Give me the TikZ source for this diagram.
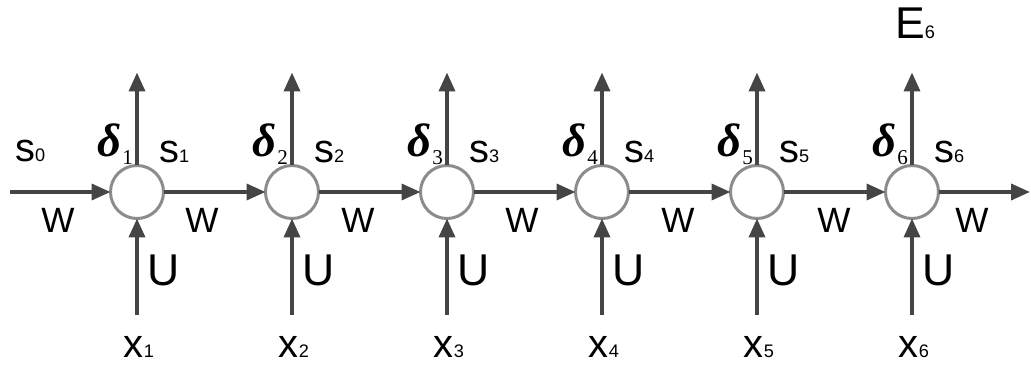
\documentclass[tikz,border=0pt]{standalone}
\usepackage{fontspec}
\setmainfont{Liberation Sans}
\newfontfamily\dfont{Liberation Serif}
\usetikzlibrary{arrows.meta,positioning}
\definecolor{linegray}{HTML}{454545}
\definecolor{cellgray}{HTML}{8C8C8C}
\newcommand{\ix}[1]{{\fontsize{15.5}{16}\selectfont #1}}
\newcommand{\dlt}[1]{{\dfont\bfseries\itshape δ}\kern0.5pt\raisebox{-2.4mm}{\fontsize{18}{19}\dfont #1}}

\begin{document}
\begin{tikzpicture}[
  cell/.style ={circle,draw=cellgray,line width=0.9mm,fill=white,
                minimum size=15.9mm,inner sep=0pt,outer sep=0pt},
  arr/.style  ={draw=linegray,line width=1.1mm,
                -{Triangle[length=5.7mm,width=4.8mm]}},
  sx/.style   ={font=\fontsize{34}{35}\selectfont,inner sep=0pt},
  wl/.style   ={font=\fontsize{30}{31}\selectfont,inner sep=0pt},
  ul/.style   ={font=\fontsize{38}{39}\selectfont,inner sep=0pt},
  dl/.style   ={font=\fontsize{40}{41}\selectfont,inner sep=0pt},
  node distance=30.6mm]

\useasboundingbox (0,0) rectangle (309.3mm,-109.5mm);

% ---------- cells ----------
\node[cell] (c1) at (41.1mm,-57.6mm) {};
\node[cell, right=of c1] (c2) {};
\node[cell, right=of c2] (c3) {};
\node[cell, right=of c3] (c4) {};
\node[cell, right=of c4] (c5) {};
\node[cell, right=of c5] (c6) {};

% ---------- free ends ----------
\coordinate[left=30.15mm of c1.west] (sin);
\coordinate[right=27.45mm of c6.east] (sout);
\coordinate[above=27.9mm of c1.north] (o1);
\coordinate[above=27.9mm of c2.north] (o2);
\coordinate[above=27.9mm of c3.north] (o3);
\coordinate[above=27.9mm of c4.north] (o4);
\coordinate[above=27.9mm of c5.north] (o5);
\coordinate[above=27.9mm of c6.north] (o6);
\coordinate[below=28.95mm of c1.south] (i1);
\coordinate[below=28.95mm of c2.south] (i2);
\coordinate[below=28.95mm of c3.south] (i3);
\coordinate[below=28.95mm of c4.south] (i4);
\coordinate[below=28.95mm of c5.south] (i5);
\coordinate[below=28.95mm of c6.south] (i6);

% ---------- connectors ----------
\draw[arr] (sin)--(c1); \draw[arr] (c1)--(c2); \draw[arr] (c2)--(c3);
\draw[arr] (c3)--(c4); \draw[arr] (c4)--(c5); \draw[arr] (c5)--(c6);
\draw[arr] (c6)--(sout);
\draw[arr] (c1)--(o1); \draw[arr] (c2)--(o2); \draw[arr] (c3)--(o3);
\draw[arr] (c4)--(o4); \draw[arr] (c5)--(o5); \draw[arr] (c6)--(o6);
\draw[arr] (i1)--(c1); \draw[arr] (i2)--(c2); \draw[arr] (i3)--(c3);
\draw[arr] (i4)--(c4); \draw[arr] (i5)--(c5); \draw[arr] (i6)--(c6);

% ---------- state labels ----------
\node[sx,anchor=base west] (s0) at ([xshift=1.5mm,yshift=9mm]sin) {s\ix{0}};
\node[wl] (w0) at ([xshift=14.4mm,yshift=-8.4mm]sin) {W};

\node[dl,anchor=base west] (d1) at ([xshift=-11.85mm,yshift=2.55mm]c1.north) {\dlt{1}};
\node[dl,anchor=base west] (d2) at ([xshift=-11.85mm,yshift=2.55mm]c2.north) {\dlt{2}};
\node[dl,anchor=base west] (d3) at ([xshift=-11.85mm,yshift=2.55mm]c3.north) {\dlt{3}};
\node[dl,anchor=base west] (d4) at ([xshift=-11.85mm,yshift=2.55mm]c4.north) {\dlt{4}};
\node[dl,anchor=base west] (d5) at ([xshift=-11.85mm,yshift=2.55mm]c5.north) {\dlt{5}};
\node[dl,anchor=base west] (d6) at ([xshift=-11.85mm,yshift=2.55mm]c6.north) {\dlt{6}};

\node[sx,anchor=base west] (s1) at ([xshift=6.6mm,yshift=0.75mm]c1.north) {s\ix{1}};
\node[sx,anchor=base west] (s2) at ([xshift=6.6mm,yshift=0.75mm]c2.north) {s\ix{2}};
\node[sx,anchor=base west] (s3) at ([xshift=6.6mm,yshift=0.75mm]c3.north) {s\ix{3}};
\node[sx,anchor=base west] (s4) at ([xshift=6.6mm,yshift=0.75mm]c4.north) {s\ix{4}};
\node[sx,anchor=base west] (s5) at ([xshift=6.6mm,yshift=0.75mm]c5.north) {s\ix{5}};
\node[sx,anchor=base west] (s6) at ([xshift=6.6mm,yshift=0.75mm]c6.north) {s\ix{6}};

% ---------- weight labels ----------
\node[wl] (w1) at ([xshift=11.55mm,yshift=-8.4mm]c1.east) {W};
\node[wl] (w2) at ([xshift=11.85mm,yshift=-8.4mm]c2.east) {W};
\node[wl] (w3) at ([xshift=14.55mm,yshift=-8.4mm]c3.east) {W};
\node[wl] (w4) at ([xshift=14.85mm,yshift=-8.4mm]c4.east) {W};
\node[wl] (w5) at ([xshift=15.15mm,yshift=-8.4mm]c5.east) {W};
\node[wl] (w6) at ([xshift=10.05mm,yshift=-8.4mm]c6.east) {W};

\node[ul] (u1) at ([xshift=8.1mm,yshift=-15.45mm]c1.south) {U};
\node[ul] (u2) at ([xshift=8.1mm,yshift=-15.45mm]c2.south) {U};
\node[ul] (u3) at ([xshift=8.1mm,yshift=-15.45mm]c3.south) {U};
\node[ul] (u4) at ([xshift=8.1mm,yshift=-15.45mm]c4.south) {U};
\node[ul] (u5) at ([xshift=8.1mm,yshift=-15.45mm]c5.south) {U};
\node[ul] (u6) at ([xshift=8.1mm,yshift=-15.45mm]c6.south) {U};

% ---------- inputs and output ----------
\node[sx,anchor=base] (x1) at ([xshift=0.6mm,yshift=-12.9mm]i1) {x\ix{1}};
\node[sx,anchor=base] (x2) at ([xshift=0.6mm,yshift=-12.9mm]i2) {x\ix{2}};
\node[sx,anchor=base] (x3) at ([xshift=0.6mm,yshift=-12.9mm]i3) {x\ix{3}};
\node[sx,anchor=base] (x4) at ([xshift=0.6mm,yshift=-12.9mm]i4) {x\ix{4}};
\node[sx,anchor=base] (x5) at ([xshift=0.6mm,yshift=-12.9mm]i5) {x\ix{5}};
\node[sx,anchor=base] (x6) at ([xshift=0.6mm,yshift=-12.9mm]i6) {x\ix{6}};

\node[ul,anchor=base] (e6) at ([xshift=0.9mm,yshift=10.2mm]o6) {E\ix{6}};

\end{tikzpicture}
\end{document}
